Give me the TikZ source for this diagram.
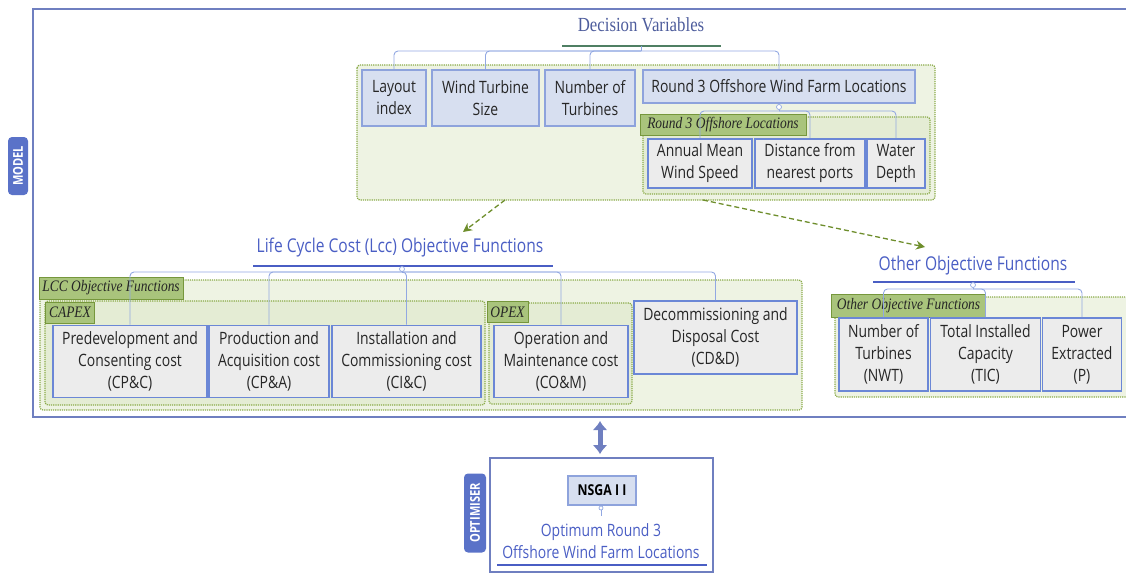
\documentclass[tikz,border=0pt]{standalone}
\usepackage{fontspec}
\usetikzlibrary{arrows.meta}
\newfontfamily\boxfont{Open Sans}[FakeStretch=0.82]
\newfontfamily\capfont{Liberation Serif}[FakeStretch=0.84]

\definecolor{frameblue}{HTML}{6F7FC0}
\definecolor{tagblue}{HTML}{5A72C8}
\definecolor{dvfill}{HTML}{D7DFF0}
\definecolor{dvdraw}{HTML}{8EA3DC}
\definecolor{objfill}{HTML}{ECECEC}
\definecolor{objdraw}{HTML}{6B87D6}
\definecolor{grpfill}{HTML}{EEF3E3}
\definecolor{subfill}{HTML}{E4ECD4}
\definecolor{grpdraw}{HTML}{8AAA48}
\definecolor{labfill}{HTML}{A9C47C}
\definecolor{labdraw}{HTML}{76973C}
\definecolor{connblue}{HTML}{92A8E2}
\definecolor{arrgreen}{HTML}{6E8E2C}
\definecolor{titleblue}{HTML}{4A5EC4}
\definecolor{dvtitle}{HTML}{4D5C9C}
\definecolor{dvline}{HTML}{4F7F63}
\definecolor{boxtext}{HTML}{262626}

\tikzset{
	node_dv/.style = {
		rectangle,
		align=center,
		inner sep=0pt,
		draw=dvdraw,
		fill=dvfill,
		line width=1.2pt,
		text=boxtext,
		font=\boxfont\fontsize{17pt}{22pt}\selectfont
	},
	node_obj/.style = {
		node_dv,
		draw=objdraw,
		fill=objfill,
		line width=1.6pt
	},
	node_lab/.style = {
		rectangle,
		inner sep=0pt,
		draw=labdraw,
		fill=labfill,
		line width=1pt,
		text=black!85,
		font=\capfont\itshape\fontsize{16pt}{20pt}\selectfont
	},
	node_title/.style = {
		align=center,
		inner sep=0pt,
		text=titleblue,
		font=\boxfont\fontsize{19pt}{22pt}\selectfont
	},
	node_tag/.style = {
		rectangle,
		rounded corners=4pt,
		inner sep=0pt,
		fill=tagblue,
		text=white,
		rotate=90,
		font=\boxfont\bfseries\fontsize{13.5pt}{15pt}\selectfont
	},
	node_knob/.style = {
		circle,
		inner sep=0pt,
		minimum size=5pt,
		draw=connblue,
		fill=white,
		line width=0.7pt
	},
	grp/.style = {
		draw=grpdraw,
		fill=grpfill,
		densely dotted,
		line width=1.2pt,
		rounded corners=3pt
	},
	conn/.style = {
		draw=connblue,
		line width=0.9pt,
		rounded corners=4pt
	},
	flow/.style = {
		draw=arrgreen,
		line width=1.3pt,
		dash pattern=on 5pt off 3pt,
		-{Stealth[length=9pt,width=9pt]}
	},
	model_frame/.style = {
		draw=frameblue,
		line width=1.8pt
	},
}

\begin{document}
\begin{tikzpicture}[x=1pt, y=-1pt]
\useasboundingbox (0,0) rectangle (1126,575);

% model
\draw [model_frame] (1140,9) -- (33,9) -- (33,417) -- (1140,417);
\node [node_tag, minimum width=58pt, minimum height=20pt] (model) at (18,166) {MODEL};

% decision variables
\draw [grp] (357,65) rectangle (935,200);
\draw [grp, fill=subfill] (643,117) rectangle (930,194);
\node [node_lab, minimum width=166pt, minimum height=20pt] (r3_lab) at (723,125) {Round 3 Offshore Locations};
\node [node_title, text=dvtitle, font=\capfont\fontsize{20pt}{22pt}\selectfont] (dv) at (641,25) {Decision Variables};
\draw [dvline, line width=1.5pt] (562,46) -- (721,46);
\node [node_dv, minimum width=64pt, minimum height=56pt] (layout) at (394,98) {Layout\\index};
\node [node_dv, minimum width=107pt, minimum height=56pt] (wt_size) at (485.5,98) {Wind Turbine\\Size};
\node [node_dv, minimum width=90pt, minimum height=56pt] (n_turb) at (590,98) {Number of\\Turbines};
\node [node_dv, minimum width=272pt, minimum height=33pt] (r3_loc) at (779,86.5) {Round 3 Offshore Wind Farm Locations};
\node [node_obj, minimum width=104pt, minimum height=49pt] (adm) at (700,163.5) {Annual Mean\\Wind Speed};
\node [node_obj, minimum width=110pt, minimum height=49pt] (dist) at (810,163.5) {Distance from\\nearest ports};
\node [node_obj, minimum width=58pt, minimum height=49pt] (wd) at (896,163.5) {Water\\Depth};
\coordinate (dv_top) at (641,46);
\coordinate (dv_bus) at (641,51);
\draw [conn] (dv_top) -- (dv_bus);
\foreach \n in {layout,wt_size,n_turb,r3_loc}
	\draw [conn] (dv_bus) -| (\n.north);
\node [node_knob] (r3_knob) at (779,107) {};
\coordinate (r3_bus) at (779,111);
\draw [conn] (r3_knob) -- (r3_bus);
\foreach \n in {adm,dist,wd}
	\draw [conn] (r3_bus) -| (\n.north);

% life cycle cost
\draw [grp] (40,280) rectangle (802,410);
\draw [grp, fill=subfill] (45,301) rectangle (485,405);
\draw [grp, fill=subfill] (489,303) rectangle (632,404);
\node [node_lab, minimum width=144pt, minimum height=22pt] (lcc_lab) at (111,288) {LCC Objective Functions};
\node [node_lab, minimum width=49pt, minimum height=21pt] (capex_lab) at (70,312.5) {CAPEX};
\node [node_lab, minimum width=41pt, minimum height=21pt] (opex_lab) at (507.5,312) {OPEX};
\node [node_title] (lcc) at (400,248) {Life Cycle Cost (Lcc) Objective Functions};
\draw [titleblue, line width=1.2pt] (253,266) -- (553,266);
\node [node_obj, minimum width=154pt, minimum height=72pt] (pdc) at (130,361.5) {Predevelopment and\\Consenting cost\\(CP\&C)};
\node [node_obj, minimum width=120pt, minimum height=72pt] (pac) at (269,361.5) {Production and\\Acquisition cost\\(CP\&A)};
\node [node_obj, minimum width=149pt, minimum height=72pt] (icc) at (406.5,361.5) {Installation and\\Commissioning cost\\(CI\&C)};
\node [node_obj, minimum width=134pt, minimum height=72pt] (oem) at (561,361.5) {Operation and\\Maintenance cost\\(CO\&M)};
\node [node_obj, minimum width=163pt, minimum height=73pt] (cdd) at (715.5,337.5) {Decommissioning and\\Disposal Cost\\(CD\&D)};
\node [node_knob] (lcc_knob) at (402,269) {};
\coordinate (lcc_bus) at (402,272);
\draw [conn] (lcc_knob) -- (lcc_bus);
\foreach \n in {pdc,pac,icc,oem,cdd}
	\draw [conn] (lcc_bus) -| (\n.north);

% other objectives
\draw [grp] (835,297) rectangle (1140,397);
\node [node_lab, minimum width=154pt, minimum height=23pt] (oth_lab) at (908.5,305.5) {Other Objective Functions};
\node [node_title] (oth) at (973,266) {Other Objective Functions};
\draw [titleblue, line width=1.2pt] (873,282) -- (1075,282);
\node [node_obj, minimum width=89pt, minimum height=73pt] (nwt) at (883.5,354.5) {Number of\\Turbines\\(NWT)};
\node [node_obj, minimum width=110pt, minimum height=73pt] (tic) at (985.5,354.5) {Total Installed\\Capacity\\(TIC)};
\node [node_obj, minimum width=79pt, minimum height=73pt] (pe) at (1082,354.5) {Power\\Extracted\\(P)};
\node [node_knob] (oth_knob) at (973,285) {};
\coordinate (oth_bus) at (973,289);
\draw [conn] (oth_knob) -- (oth_bus);
\foreach \n in {nwt,tic,pe}
	\draw [conn] (oth_bus) -| (\n.north);

% flows to objectives
\coordinate (dv_out1) at (505,200);
\coordinate (dv_out2) at (703,200);
\coordinate (lcc_in) at (463,232);
\coordinate (oth_in) at (925,247);
\draw [flow] (dv_out1) -- (lcc_in);
\draw [flow] (dv_out2) -- (oth_in);

% optimiser
\node [model_frame, rectangle, minimum width=223pt, minimum height=114pt] (opt) at (601.5,515) {};
\node [node_tag, minimum width=79pt, minimum height=22pt] (optimiser) at (475,513) {OPTIMISER};
\coordinate (model_s) at (600,421);
\draw [frameblue, line width=5pt, {Latex[length=9pt,width=15pt]}-{Latex[length=9pt,width=15pt]}] (model_s) -- ([xshift=-1.5pt, yshift=3pt]opt.north);
\node [node_dv, text=black, minimum width=68pt, minimum height=29pt, font=\boxfont\bfseries\fontsize{15pt}{18pt}\selectfont] (nsga) at (602,490.5) {NSGA I I};
\node [node_knob, minimum size=4pt] (nsga_knob) at (601,508) {};
\coordinate (nsga_end) at (601,516);
\draw [conn] (nsga_knob) -- (nsga_end);
\node [node_title, font=\boxfont\fontsize{17pt}{22pt}\selectfont] (opt_res) at (601,541) {Optimum Round 3\\Offshore Wind Farm Locations};
\draw [titleblue, line width=1.2pt] (497,565) -- (707,565);
\end{tikzpicture}
\end{document}
